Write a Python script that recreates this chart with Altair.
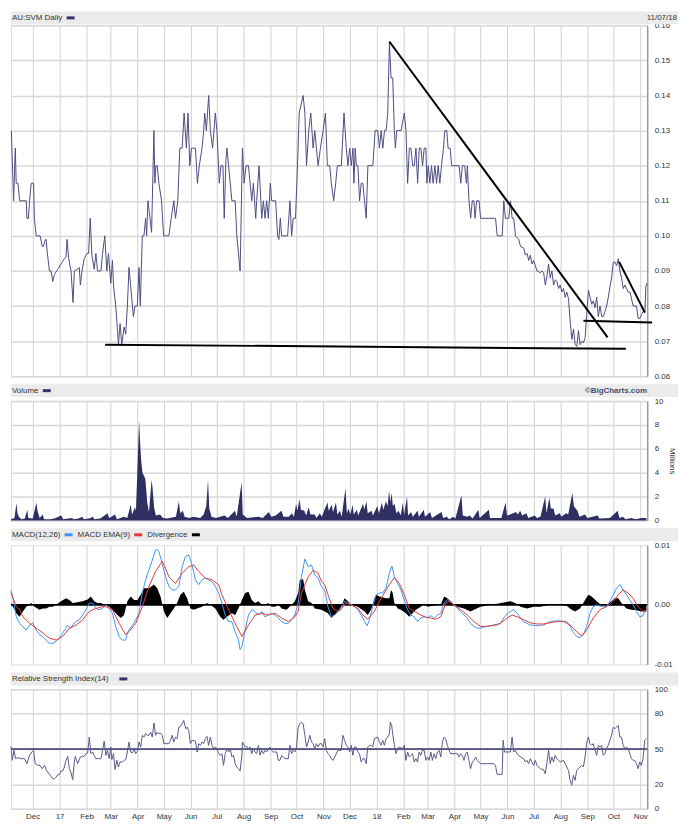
import altair as alt
import pandas as pd

# ---------------- data (day = days after 2016-11-06) ----------------
START = pd.Timestamp("2016-11-06")
END = pd.Timestamp("2018-11-09")

price = [
    (0.4, 0.130), (3, 0.110), (5, 0.125), (6, 0.115), (8, 0.115), (10, 0.110), (17.6, 0.110), (18.3, 0.105),
    (20, 0.105), (21.4, 0.110), (23.3, 0.115), (26, 0.115), (27, 0.105), (29, 0.100), (33.6, 0.100), (36, 0.097),
    (37.4, 0.097), (39.7, 0.099), (40.5, 0.099), (41.7, 0.0955), (44.3, 0.090), (46.2, 0.090), (48.1, 0.087),
    (50, 0.089), (53.9, 0.0905), (57.7, 0.092), (61.5, 0.0935), (63.4, 0.094), (64.6, 0.099), (66.5, 0.0935),
    (69.2, 0.090), (71.5, 0.081), (73, 0.090), (76.8, 0.0905), (78.7, 0.091), (79.9, 0.086), (81.8, 0.090),
    (84.4, 0.0935), (87.5, 0.095), (89.4, 0.095), (91.3, 0.105), (93.2, 0.0945), (95.9, 0.0905), (97.8, 0.095),
    (99.7, 0.090), (103.6, 0.090), (105.5, 0.095), (108.1, 0.100), (110.4, 0.090), (112.3, 0.095), (115, 0.0865),
    (116.9, 0.093), (118.1, 0.086), (120.7, 0.080), (122.7, 0.073), (123.8, 0.069), (125.7, 0.075), (127.6, 0.069),
    (130.3, 0.074), (132.2, 0.072), (134.1, 0.080), (136, 0.091), (141, 0.077), (142.9, 0.080), (145.6, 0.080),
    (147.5, 0.091), (149, 0.080), (151.3, 0.100), (153.2, 0.100), (155.1, 0.105), (156.3, 0.100), (157.8, 0.110),
    (162, 0.101), (164.7, 0.130), (165.8, 0.115), (167, 0.120), (168.5, 0.120), (170.4, 0.115), (173.5, 0.110),
    (175.8, 0.100), (181.9, 0.100), (184.6, 0.105), (187.6, 0.110), (189.5, 0.105), (192.2, 0.110), (194.5, 0.125),
    (197.2, 0.125), (199.5, 0.135), (202.1, 0.125), (204, 0.135), (206, 0.120), (207.9, 0.125), (212.5, 0.125),
    (214.8, 0.115), (217, 0.120), (220.1, 0.125), (222, 0.130), (223.2, 0.135), (225.1, 0.130), (227.8, 0.140),
    (229.7, 0.130), (232.3, 0.125), (235.4, 0.135), (237.3, 0.130), (240, 0.115), (241.9, 0.120), (244.2, 0.120),
    (245.7, 0.105), (247.6, 0.1215), (248.8, 0.125), (250.7, 0.120), (252.6, 0.115), (254.5, 0.110), (258.3, 0.110),
    (260.2, 0.100), (264, 0.090), (266.7, 0.125), (268.6, 0.115), (270.9, 0.120), (273.6, 0.120), (275.5, 0.115),
    (277.4, 0.110), (279.3, 0.115), (282, 0.105), (283.1, 0.110), (285.8, 0.120), (288.9, 0.105), (290.8, 0.110),
    (292.7, 0.105), (294.6, 0.110), (296.5, 0.105), (298.8, 0.115), (300.3, 0.110), (304.9, 0.110), (307.2, 0.100),
    (308.7, 0.099), (310.3, 0.105), (311.8, 0.100), (318.7, 0.100), (321.4, 0.110), (323.3, 0.100), (325.2, 0.105),
    (327.8, 0.105), (330.1, 0.120), (332.1, 0.135), (336.6, 0.140), (338.6, 0.135), (340.5, 0.120), (343.1, 0.130),
    (345.4, 0.135), (348.1, 0.125), (350, 0.130), (353.8, 0.120), (356.5, 0.125), (359.6, 0.130), (362.3, 0.135),
    (364.5, 0.120), (367.2, 0.120), (369.1, 0.115), (371.8, 0.110), (374.1, 0.115), (376, 0.120), (380.6, 0.120),
    (383.7, 0.135), (386.3, 0.125), (388.2, 0.120), (390.2, 0.125), (392.1, 0.120), (394, 0.125), (395.1, 0.115),
    (396.6, 0.125), (397.8, 0.120), (399.7, 0.120), (401.6, 0.110), (403.5, 0.115), (405.4, 0.115), (407.3, 0.110),
    (409.3, 0.105), (411.2, 0.120), (416.9, 0.120), (419.6, 0.130), (422.6, 0.130), (424.5, 0.125), (426.5, 0.130),
    (428.4, 0.125), (430.3, 0.130), (432.2, 0.130), (434.1, 0.135), (436, 0.155), (437.9, 0.145), (439.8, 0.145),
    (441.7, 0.130), (442.9, 0.125), (444.4, 0.130), (449.4, 0.130), (453.2, 0.135), (455.1, 0.130), (457, 0.115),
    (459, 0.125), (460.8, 0.125), (462.8, 0.120), (464.7, 0.120), (466.6, 0.125), (468.5, 0.115), (470.4, 0.125),
    (472.3, 0.125), (474.2, 0.120), (476.1, 0.125), (478, 0.125), (479.2, 0.115), (480.7, 0.120), (482.6, 0.115),
    (484.5, 0.120), (486.4, 0.115), (488.4, 0.120), (490.3, 0.115), (492.2, 0.120), (494.1, 0.115), (496, 0.120),
    (498.3, 0.125), (499.8, 0.130), (502.1, 0.130), (503.6, 0.125), (505.9, 0.125), (507.8, 0.120), (516.3, 0.120),
    (518.2, 0.115), (520.1, 0.120), (522.7, 0.120), (524.7, 0.115), (525.8, 0.120), (527.7, 0.110), (529.6, 0.105),
    (531.5, 0.110), (533.4, 0.110), (534.6, 0.105), (536.5, 0.110), (539.2, 0.110), (541.1, 0.105), (558.3, 0.105),
    (560.2, 0.100), (566, 0.100), (567.8, 0.110), (569.7, 0.105), (573.6, 0.105), (575.5, 0.110), (577.4, 0.105),
    (579.3, 0.105), (581.2, 0.100), (585, 0.099), (587, 0.097), (590.8, 0.0965), (592.7, 0.0945), (594.6, 0.095),
    (596.5, 0.093), (598.4, 0.0945), (600.3, 0.092), (602.2, 0.093), (604.1, 0.0915), (606.1, 0.090), (609.9, 0.0895),
    (611.8, 0.090), (613.7, 0.0895), (615.6, 0.086), (617.5, 0.0885), (619.4, 0.092), (621.3, 0.088), (623.2, 0.090),
    (625.2, 0.086), (627.1, 0.0875), (629, 0.087), (630.9, 0.085), (632.8, 0.086), (634.7, 0.084), (636.6, 0.085),
    (638.5, 0.0825), (640.4, 0.084), (642.4, 0.082), (644.3, 0.0755), (646.2, 0.0705), (648.1, 0.0735), (650, 0.069),
    (651.9, 0.0685), (653.8, 0.073), (655.7, 0.069), (657.6, 0.070), (659.5, 0.0695), (661.5, 0.071), (663.4, 0.078),
    (665.3, 0.0845), (667.2, 0.0825), (669.1, 0.0805), (671, 0.0815), (672.9, 0.0795), (674.8, 0.0825), (676.7, 0.077),
    (678.7, 0.080), (680.6, 0.077), (682.5, 0.077), (684.4, 0.0785), (686.3, 0.080), (688.2, 0.0825), (690.1, 0.0855),
    (692, 0.088), (693.9, 0.0925), (695.9, 0.0925), (697.8, 0.0915), (699.7, 0.0935), (701.6, 0.090), (703.5, 0.088),
    (705.4, 0.085), (707.3, 0.086), (709.2, 0.085), (711.1, 0.084), (713.1, 0.084), (715, 0.082), (716.9, 0.080),
    (718.8, 0.080), (720.7, 0.080), (722.6, 0.0765), (724.5, 0.0765), (726.4, 0.0775), (728.3, 0.0785), (730.3, 0.078),
    (731.4, 0.0855), (732.9, 0.0865),
]

# hand-drawn trendlines: (id, start day, start price, end day, end price)
trendlines = [
    ("support", 108.5, 0.0690, 708.4, 0.0678),
    ("downtrend", 435.9, 0.1554, 687.4, 0.0711),
    ("base", 659.5, 0.0758, 738.6, 0.0753),
    ("short", 700.7, 0.0926, 730.2, 0.0782),
]

# volume, millions of shares
volume = [
    (0, 0.1), (4, 0.2), (6.3, 1.45), (7.5, 0.6), (9, 0.3), (12, 0.1), (16, 0.15), (18.8, 0.9), (20, 0.2), (25, 0.15),
    (29.4, 1.5), (30.5, 0.8), (33, 0.2), (36.7, 0.5), (38, 0.1), (45, 0.1), (50, 0.15), (58, 0.4), (60, 0.1), (66, 0.15),
    (70.4, 0.2), (72, 0.1), (78, 0.15), (82, 0.3), (84, 0.1), (90, 0.15), (94.5, 0.3), (96, 0.1), (103, 0.15),
    (111.4, 0.6), (113, 0.2), (120, 0.5), (122, 0.1), (130, 0.3), (134, 0.2), (138, 1.3), (139.5, 0.5), (142.8, 1.1),
    (144, 0.8), (147.6, 8.4), (148.6, 6.8), (150, 5.0), (151.5, 4.0), (154.8, 3.5), (157, 1.5), (159, 0.7), (162, 3.4),
    (163, 2.8), (165, 1.0), (167, 0.4), (171.7, 0.5), (175, 0.2), (180, 0.15), (190, 0.3), (193.5, 1.6), (195, 0.6),
    (198, 0.8), (200, 0.3), (205, 0.2), (210, 0.3), (218, 0.2), (222, 0.5), (225, 1.2), (227, 3.4), (228.5, 1.0),
    (231, 0.3), (236, 0.2), (246, 0.4), (250, 0.2), (258, 0.8), (260, 0.3), (265.8, 3.2), (267, 0.5), (272, 0.2),
    (285, 0.3), (290, 0.2), (297, 0.7), (300, 0.3), (305, 0.4), (311.6, 0.8), (314, 0.3), (320, 0.3), (323.7, 0.6),
    (326, 0.3), (328.5, 1.4), (330, 0.8), (332.4, 1.8), (334, 0.9), (338, 0.8), (340, 0.4), (343, 1.1), (345, 0.5),
    (350, 0.5), (352, 0.2), (355.9, 0.6), (358, 0.3), (364.7, 1.5), (366, 0.8), (369.5, 1.3), (371, 0.7), (374.4, 1.5),
    (376, 0.5), (379, 0.8), (381, 0.3), (385.4, 2.7), (387, 0.6), (388.8, 1.0), (391, 0.5), (393.6, 1.3), (395, 0.5),
    (398.5, 0.9), (400, 0.4), (405.7, 1.4), (407, 0.9), (409.5, 1.6), (411, 0.6), (415.3, 0.8), (417, 0.4), (422, 1.2),
    (424, 0.6), (427.4, 1.5), (429, 0.9), (432, 1.6), (434, 1.2), (435.6, 2.5), (437, 1.5), (438.5, 2.3), (440, 1.2),
    (441.9, 1.4), (444, 0.6), (446.7, 0.8), (449, 0.4), (451.5, 1.5), (453, 0.5), (456.3, 2.0), (457.5, 0.4), (461, 0.7),
    (463, 0.3), (468.4, 0.8), (470, 0.3), (475.6, 0.9), (477, 0.3), (483, 0.7), (485, 0.2), (496, 0.7), (498, 0.2),
    (502, 0.3), (505, 0.1), (509.4, 0.3), (512, 0.15), (519, 2.1), (520.5, 0.4), (526, 0.3), (528.4, 0.4), (532, 0.15),
    (538.4, 0.9), (540, 0.2), (550.5, 0.9), (552, 0.2), (557.8, 0.2), (565, 0.2), (569.8, 1.5), (571.5, 0.4), (575, 0.5),
    (581.8, 0.7), (584, 0.5), (586.6, 0.8), (589, 0.4), (593.8, 0.6), (596, 0.2), (603.5, 0.4), (606, 0.2), (610, 0.3),
    (615.5, 2.0), (617, 0.6), (620.3, 1.9), (622, 1.0), (625, 1.0), (627, 0.4), (632.4, 0.6), (634, 0.3), (639.6, 0.6),
    (642, 0.5), (646.8, 2.3), (648.5, 1.2), (652.6, 0.8), (655, 0.3), (661.4, 0.5), (664, 0.2), (675.9, 0.4),
    (678, 0.15), (690, 0.2), (699, 0.8), (701, 0.2), (705, 0.3), (708, 0.1), (714.5, 0.2), (720, 0.1), (726.5, 0.2),
    (732, 0.2),
]

# MACD values in thousandths
macd_line = [
    (0, 2.5), (2.3, 1.1), (6.1, -2.0), (9.9, -3.1), (13.8, -3.7), (17.6, -4.2), (21.4, -3.4), (25.2, -3.0), (29, -4.2),
    (32.9, -5.0), (36.7, -5.3), (40.5, -5.9), (44.3, -6.4), (48.1, -6.5), (52, -6.1), (55.8, -5.6), (59.6, -4.7),
    (63.4, -3.9), (65.3, -3.4), (67.3, -3.7), (69.2, -3.9), (71.1, -3.4), (74.9, -2.8), (78.7, -2.5), (82.5, -1.7),
    (86.4, -0.8), (90.2, 0.3), (94, 0.3), (97.8, -0.6), (101.6, -0.8), (105.5, -0.6), (109.3, 0), (113.1, -0.6),
    (116.9, -1.4), (120.7, -3.6), (124.6, -5.3), (126.5, -5.7), (128.4, -5.9), (132.2, -5.9), (134.1, -4.7),
    (136, -4.2), (139.9, -3.4), (143.7, -2.5), (147.5, -1.4), (151.3, 2.0), (155.1, 4.2), (159, 5.9), (162.8, 7.5),
    (166.6, 9.2), (168.5, 9.3), (170.4, 8.9), (174.2, 7.0), (178.1, 4.7), (181.9, 3.1), (185.7, 2.5), (189.5, 2.5),
    (193.4, 3.1), (197.2, 6.4), (201, 8.1), (204.8, 8.4), (208.6, 6.7), (212.5, 4.2), (216.3, 3.4), (220.1, 4.2),
    (223.9, 4.5), (227.7, 4.2), (231.6, 3.9), (235.4, 3.1), (239.2, 2.0), (243, 0.3), (246.8, -1.7), (250.7, -2.8),
    (254.5, -2.8), (258.3, -4.5), (262.1, -5.9), (264, -7.5), (266, -7.0), (269.8, -4.2), (273.6, -1.7), (277.4, -0.8),
    (281.2, -1.1), (285.1, -1.7), (288.9, -1.1), (292.7, -2.0), (296.5, -1.7), (300.3, -1.4), (304.2, -1.7), (308, -2.2),
    (311.8, -2.8), (315.6, -3.1), (319.5, -3.1), (323.3, -2.5), (327.1, -1.7), (330.9, 0.3), (334.7, 4.7), (338.6, 7.7),
    (342.4, 6.4), (346.2, 6.7), (350, 5.0), (353.8, 4.5), (357.6, 3.1), (361.4, 2.5), (365.2, -0.3), (369.1, -2.0),
    (372.9, -1.7), (376.7, -1.1), (380.5, -0.8), (384.3, 0.6), (388.2, 0.3), (392, 0), (395.8, -0.3), (399.6, -0.8),
    (403.5, -1.7), (407.3, -2.8), (410.3, -3.5), (413, -2.5), (416.8, -0.3), (420.7, 1.7), (424.5, 2.0), (428.3, 2.0),
    (432.1, 2.8), (435.9, 5.3), (439, 6.5), (441.7, 4.7), (445.5, 3.6), (449.3, 2.5), (453.1, 0.8), (457, -0.8),
    (460.8, -1.7), (464.6, -2.0), (468.4, -2.8), (472.2, -2.2), (476.1, -2.0), (479.9, -2.1), (483.7, -1.8),
    (487.5, -2.3), (491.3, -1.7), (495.2, -1.4), (499, 0.3), (502.8, 0.9), (506.6, 0.6), (510.4, 0), (514.3, -0.6),
    (518.1, -1.1), (521.9, -1.7), (525.7, -2.2), (529.5, -3.1), (533.4, -3.6), (537.2, -3.9), (541, -3.9),
    (544.8, -3.7), (548.7, -3.6), (552.5, -3.5), (556.3, -3.4), (560.1, -3.4), (563.9, -3.1), (567.8, -2.2),
    (571.6, -1.5), (575.4, -1.1), (579.2, -0.8), (583.1, -1.4), (586.9, -2.2), (590.7, -2.8), (594.5, -3.1),
    (598.3, -3.4), (602.2, -3.4), (606, -3.5), (609.8, -3.4), (613.6, -3.4), (617.4, -3.1), (621.3, -2.8),
    (625.1, -2.7), (632.7, -2.7), (640.4, -2.8), (644.2, -3.6), (648, -4.7), (651.8, -5.3), (655.6, -5.5),
    (659.5, -5.0), (663.3, -3.6), (667.1, -1.4), (670.9, -0.3), (674.8, 0), (678.6, -0.2), (682.4, -0.3),
    (686.2, -0.3), (690, 0.6), (693.9, 1.7), (697.7, 2.8), (701.5, 3.4), (705.3, 2.5), (709.1, 1.7), (713, 0.8),
    (716.8, 0), (720.6, -1.1), (724.4, -2.0), (728.2, -1.8), (730.1, -1.1), (732.1, -0.9),
]

macd_ema = [
    (0, 2.0), (6.1, -0.3), (9.9, -0.8), (13.8, -2.0), (21.4, -3.1), (29, -3.9), (36.7, -4.7), (44.3, -5.6), (52, -5.9),
    (59.6, -5.3), (67.3, -3.9), (74.9, -3.4), (82.5, -2.5), (90.2, -1.1), (97.8, -0.6), (105.5, -0.3), (109.3, -0.3),
    (116.9, -0.8), (124.6, -3.1), (132.2, -5.0), (136, -4.5), (143.7, -3.1), (151.3, -0.3), (159, 3.1), (166.6, 5.6),
    (174.2, 7.3), (178.1, 6.1), (181.9, 4.7), (189.5, 3.6), (197.2, 5.3), (204.8, 6.4), (210.5, 6.7), (216.3, 5.6),
    (223.9, 4.5), (231.6, 4.2), (239.2, 3.4), (243, 1.7), (250.7, -0.8), (258.3, -3.1), (266, -5.3), (273.6, -3.4),
    (281.2, -1.7), (288.9, -1.4), (296.5, -1.7), (304.2, -1.4), (311.8, -2.2), (319.5, -2.8), (327.1, -2.0),
    (330.9, -1.1), (334.7, 2.0), (342.4, 4.7), (348.1, 5.8), (353.8, 5.3), (357.6, 4.0), (361.4, 3.4), (365.2, 1.7),
    (371, -0.6), (376.7, -1.1), (380.5, -0.6), (386.3, 0.3), (392, 0), (399.6, -0.6), (405.4, -1.7), (411.1, -2.4),
    (418.7, -1.1), (424.5, 0.6), (430.2, 2.0), (435.9, 3.4), (441.7, 4.6), (447.4, 3.6), (453.1, 1.7), (458.9, -0.6),
    (464.6, -1.1), (472.2, -1.7), (478, -2.1), (483.7, -2.2), (489.4, -2.4), (495.2, -2.0), (500.9, 0.3),
    (504.7, 0.6), (510.4, 0), (518.1, -0.8), (525.7, -1.7), (533.4, -2.8), (541, -3.6), (548.7, -3.6), (556.3, -3.4),
    (563.9, -3.1), (571.6, -2.2), (577.3, -1.7), (583.1, -2.0), (590.7, -2.5), (598.3, -3.0), (606, -3.2),
    (613.6, -3.2), (621.3, -3.0), (628.9, -2.8), (636.5, -2.8), (644.2, -3.4), (651.8, -4.5), (657.6, -5.2),
    (663.3, -4.2), (670.9, -2.2), (678.6, -0.8), (686.2, -0.3), (693.9, 0.6), (699.6, 1.7), (705.3, 2.5), (711, 2.0),
    (716.8, 1.1), (722.5, -0.3), (728.2, -1.1), (732.1, -0.9),
]

macd_divergence = [
    (0, 0.3), (2.3, -0.3), (6.1, -1.4), (9.9, -2.0), (13.8, -1.1), (17.6, -0.3), (23.3, 0.3), (27.1, -0.3),
    (32.9, -0.8), (36.7, -0.6), (40.5, -0.6), (44.3, -0.3), (48.1, -0.3), (52, 0), (57.7, 0.6), (63.4, 1.1),
    (67.3, 0.8), (71.1, 0.3), (74.9, 0.4), (82.5, 0.6), (88.3, 0.9), (92.1, 1.4), (95.9, 0.6), (99.7, 0.3),
    (103.6, 0.3), (107.4, 0), (113.1, -0.3), (116.9, -0.8), (122.7, -1.7), (126.5, -2.2), (130.3, -1.7), (134.1, 0.6),
    (137.9, 1.4), (141.8, 0.8), (145.6, 0.8), (149.4, 1.7), (153.2, 2.8), (159, 2.8), (164.7, 3.4), (168.5, 2.8),
    (172.3, 1.4), (176.2, -1.1), (180, -2.2), (183.8, -1.4), (187.6, -0.6), (191.4, 0.3), (195.2, 1.7), (199.1, 2.2),
    (202.9, 1.1), (206.7, -0.6), (210.5, -0.8), (214.4, -0.6), (220.1, -0.3), (225.8, 0.3), (229.7, 0),
    (235.4, -0.6), (241.1, -2.0), (244.9, -2.5), (248.8, -2.0), (254.5, -1.4), (258.3, -1.7), (262.1, -0.6),
    (266, 0.8), (269.8, 2.0), (273.6, 2.2), (277.4, 0.8), (281.2, 0.3), (285.1, 0.6), (288.9, 0), (292.7, 0),
    (296.5, 0.3), (300.3, -0.3), (304.2, -0.3), (308, 0), (311.8, -0.6), (317.5, -0.8), (323.3, 0), (327.1, 0.6),
    (330.9, 2.0), (332.8, 4.2), (336.6, 4.3), (338.6, 2.5), (342.4, 0.6), (346.2, 0.3), (350, -0.6), (357.6, -0.8),
    (361.4, -1.1), (365.2, -1.4), (369.1, -2.2), (372.9, -1.7), (376.7, -1.1), (380.5, -0.3), (384.3, 1.1),
    (388.2, 0.6), (392, 0), (399.6, -0.3), (407.3, -1.1), (411.1, -1.7), (414.9, -0.8), (418.7, 1.1), (420.7, 1.7),
    (424.5, 1.4), (432.1, 1.1), (435.9, 1.1), (437.8, 2.5), (439.8, 2.0), (441.7, 0.3), (445.5, -0.6), (449.3, -0.8),
    (455, -1.4), (458.9, -2.0), (462.7, -1.4), (466.5, -0.8), (472.2, -0.3), (476.1, 0.2), (479.9, -0.3),
    (487.5, -0.1), (495.2, 0), (499, 1.4), (502.8, 1.1), (508.5, 0.3), (514.3, -0.3), (521.9, -0.6), (529.5, -1.1),
    (533.4, -0.8), (541, -0.3), (548.7, -0.1), (552.5, 0.1), (560.1, 0.2), (567.8, 0.4), (575.4, 0.6), (581.1, 0.3),
    (586.9, -0.3), (594.5, -0.6), (602.2, -0.3), (609.8, -0.3), (617.4, -0.1), (621.3, 0.1), (628.9, 0.1),
    (640.4, -0.2), (646.1, -0.8), (649.9, -1.1), (655.6, -0.6), (661.4, 0.8), (665.2, 1.7), (669, 1.4),
    (674.8, 0.6), (680.5, -0.1), (686.2, 0), (691.9, 0.6), (695.8, 1.1), (699.6, 1.1), (703.4, 0.3), (709.1, -0.6),
    (714.9, -0.8), (720.6, -0.9), (726.3, -1.1), (732.1, -1.1),
]

rsi = [
    (0, 52.2), (1.5, 40.5), (3.4, 48.9), (5.3, 41.9), (8, 42.7), (11.8, 41.9), (15.7, 41.9), (18.3, 37.7), (21.4, 44.7),
    (24.5, 48), (26, 48.9), (27.9, 37.7), (31, 36.3), (33.6, 36.3), (35.9, 33.5), (38.6, 36.3), (41.3, 31.6),
    (44.3, 28.8), (48.1, 25.1), (50.1, 25.1), (52, 26.5), (53.9, 28.5), (55.8, 28.5), (57.7, 31.6), (59.6, 31.6),
    (61.5, 34.9), (63.4, 40.5), (65.3, 43.9), (67.3, 33.5), (69.2, 30), (71.1, 24.3), (73, 39.1), (74.1, 43.9),
    (76.8, 37.7), (79.9, 43.3), (82.5, 43.9), (84.4, 43.9), (86.4, 46.1), (88.3, 46.6), (90.2, 60), (92.1, 46.1),
    (94, 47.5), (95.9, 44.7), (97.8, 41.9), (103.6, 41.9), (105.5, 48.9), (107.4, 56.7), (109.3, 44.7), (111.2, 48.9),
    (113.1, 41.9), (115, 51.7), (116.2, 41.1), (118.1, 46.1), (120, 32.7), (121.9, 40.5), (123.8, 34.9), (125.7, 39.1),
    (128.4, 39.1), (130.3, 40.5), (132.2, 41.1), (134.1, 47.5), (136, 55.9), (137.9, 47.5), (139.9, 46.6),
    (141.8, 50.3), (143.7, 46.1), (145.6, 48), (147.5, 55.9), (149.4, 51.7), (151.3, 61.5), (153.2, 60), (155.1, 62.8),
    (157, 61.5), (159, 61.5), (160.9, 64.2), (162.8, 60), (164.7, 71.8), (166.6, 61.5), (168.5, 64.2), (170.4, 62.8),
    (172.3, 63.3), (174.2, 61.5), (176.2, 54.5), (181.9, 54.5), (183.8, 57.3), (185.7, 61.5), (187.6, 55.9),
    (189.5, 60), (191.4, 58.7), (193.4, 68.4), (195.3, 69), (197.2, 71.2), (199.1, 74), (200.2, 69.8), (201.8, 67),
    (202.9, 68.4), (204.8, 65.6), (206.7, 54.5), (208.6, 57.3), (212.5, 56.7), (214.4, 47.5), (216.3, 54.5),
    (218.2, 53.1), (220.1, 55.9), (222, 54.5), (223.9, 58.7), (225.8, 60.6), (227.7, 53.1), (229.7, 60), (231.6, 53.1),
    (233.5, 50.3), (235.4, 51.7), (237.3, 50.3), (239.2, 46.1), (241.1, 44.7), (243, 46.1), (244.9, 36.3),
    (246.8, 46.1), (248.8, 50.3), (250.7, 47.5), (252.6, 50.3), (254.5, 43.3), (256.4, 44.7), (258.3, 37.7),
    (260.2, 34.9), (262.1, 33.5), (264, 31.6), (266, 44.7), (266.7, 55.9), (268.6, 53.1), (269.8, 51.7), (271.7, 52.2),
    (273.6, 50.3), (275.5, 51.7), (277.4, 46.1), (279.3, 50.3), (281.2, 47.5), (283.1, 46.1), (285.1, 53.1), (287, 44.7),
    (288.9, 48.9), (290.8, 46.1), (292.7, 48.9), (294.6, 47.5), (296.5, 50.3), (298.4, 51.7), (300.3, 48.9),
    (302.3, 47.5), (306.1, 47.5), (308, 40.5), (309.9, 40.5), (311.8, 44.7), (315.6, 41.9), (319.5, 41.9),
    (321.4, 53.1), (323.3, 46.1), (325.2, 48.9), (327.1, 47.5), (329, 51.7), (330.9, 68.4), (332.8, 71.2),
    (334.7, 72.6), (336.6, 71.2), (338.6, 61.5), (340.5, 51.7), (342.4, 55.9), (344.3, 61.5), (346.2, 55.9),
    (348.1, 54.5), (350, 50.3), (351.9, 54.5), (353.8, 51.7), (355.8, 54.5), (357.6, 54.5), (359.5, 51.7),
    (361.4, 58.7), (363.3, 48.9), (365.2, 46.1), (367.2, 44.7), (369.1, 41.9), (371, 40.5), (372.9, 43.3),
    (376.7, 48.9), (380.5, 48.9), (382.4, 61.5), (384.3, 57.3), (386.3, 53.1), (388.2, 51.7), (390.1, 47.5),
    (392, 53.1), (393.9, 44.7), (395.8, 51.7), (397.7, 51.7), (399.6, 47.5), (401.5, 46.1), (403.5, 39.1),
    (405.4, 41.9), (407.3, 41.9), (409.2, 37.7), (411.1, 51.7), (413, 53.1), (414.9, 53.1), (416.8, 51.7),
    (418.7, 58.7), (422.6, 60), (424.5, 55.9), (426.4, 53.1), (428.3, 57.3), (430.2, 53.1), (432.1, 58.7), (434, 60),
    (435.9, 62.3), (437.1, 72.6), (438.6, 69.8), (439.8, 62.8), (441.7, 53.1), (443.6, 46.1), (445.5, 50.3),
    (447.4, 51.7), (451.2, 50.3), (453.1, 53.1), (455, 40.5), (457, 47.5), (458.9, 43.3), (460.8, 44.7), (462.7, 46.1),
    (464.6, 39.1), (466.5, 41.9), (468.4, 39.1), (470.3, 47.5), (472.2, 44.7), (474.2, 48.9), (476.1, 48.9),
    (478, 40.5), (479.9, 43.3), (481.8, 40.5), (483.7, 47.5), (485.6, 40.5), (487.5, 46.1), (489.4, 41.9),
    (491.3, 47.5), (493.3, 48.9), (495.2, 43.3), (497.1, 55.9), (499, 60), (500.9, 58.7), (502.8, 53.1), (504.7, 48.9),
    (506.6, 46.1), (514.3, 46.1), (516.2, 43.3), (518.1, 46.1), (520, 44.7), (521.9, 40.5), (523.8, 46.1),
    (525.7, 47.5), (527.6, 40.5), (529.5, 33.5), (531.5, 39.1), (533.4, 40.5), (535.3, 43.3), (537.2, 40.5),
    (539.1, 39.1), (541, 37.7), (556.3, 37.7), (558.2, 36.3), (560.1, 28.8), (565.9, 28.8), (567, 57.3),
    (568.6, 47.5), (575.4, 47.5), (577.3, 60), (579.2, 47.5), (581.1, 48.9), (583.1, 46.1), (586.9, 43.3),
    (590.7, 41.9), (592.6, 39.1), (594.5, 40.5), (596.4, 37.7), (598.3, 41.9), (602.2, 36.3), (604.1, 40.5),
    (606, 36.3), (609.8, 33.5), (613.6, 32.7), (615.5, 29.3), (617.4, 37.7), (619.4, 48.9), (621.3, 37.7),
    (623.2, 43.3), (625.1, 39.1), (627, 44.7), (628.9, 41.9), (630.8, 40.5), (632.7, 39.1), (636.5, 40.5),
    (640.4, 34.9), (642.3, 32.1), (644.2, 23.7), (646.1, 19.6), (648, 27.9), (649.9, 23.7), (651.8, 32.1),
    (653.7, 33.5), (655.6, 34.9), (657.6, 36.3), (659.5, 34.9), (661.4, 43.3), (663.3, 55), (665.2, 60),
    (667.1, 54.5), (669, 53.1), (670.9, 54.5), (672.9, 48.9), (674.8, 44.7), (676.7, 53.1), (678.6, 51.7),
    (680.5, 53.1), (682.4, 44.7), (684.3, 46.1), (686.2, 50.3), (688.1, 53.1), (690, 57.3), (691.9, 61.5),
    (693.9, 68.4), (695.8, 67), (697.7, 68.4), (699.6, 69.8), (701.5, 60), (703.4, 60), (705.3, 53.1), (707.2, 50.3),
    (709.1, 51.7), (711, 50.3), (713, 46.1), (714.9, 41.9), (716.8, 40.5), (718.7, 40.5), (720.6, 37.7),
    (722.5, 33.5), (724.4, 39.1), (726.3, 36.3), (728.2, 41.9), (730.1, 57.3), (732, 58.7),
]

x_labels = ["Dec", "17", "Feb", "Mar", "Apr", "May", "Jun", "Jul", "Aug", "Sep", "Oct", "Nov",
            "Dec", "18", "Feb", "Mar", "Apr", "May", "Jun", "Jul", "Aug", "Sep", "Oct", "Nov"]
price_ticks = [0.06, 0.07, 0.08, 0.09, 0.10, 0.11, 0.12, 0.13, 0.14, 0.15, 0.16]
volume_ticks = [0, 2, 4, 6, 8, 10]
macd_ticks = [-0.01, 0.0, 0.01]
rsi_ticks = [0, 20, 50, 80, 100]


# ---------------- helpers ----------------
def frame(pairs, scale=1.0):
    df = pd.DataFrame(pairs, columns=["day", "v"])
    df["v"] = df["v"] * scale
    df["date"] = START + pd.to_timedelta(df["day"], unit="D")
    return df[["date", "v"]]


def dt(ts):
    return alt.DateTime(year=ts.year, month=ts.month, date=ts.day)


FONT = "Liberation Sans"
TXT = "#333333"
GRID = "#d2d2d2"
HDR = "#ebebeb"
NAVY = "#33336a"
W = 640

month_starts = pd.date_range("2016-12-01", "2018-11-01", freq="MS")
TICKS = [dt(d) for d in month_starts]
LABEL_EXPR = ("[" + ",".join("'%s'" % s for s in x_labels) + "]"
              "[(year(datum.value)-2016)*12 + month(datum.value) - 11]")


def xenc(labels=False):
    return alt.X(
        "date:T",
        scale=alt.Scale(domain=[dt(START), dt(END)]),
        axis=alt.Axis(values=TICKS, grid=True, gridColor=GRID, gridWidth=1, ticks=False, domain=False,
                      labels=labels, labelExpr=LABEL_EXPR, labelFlush=False, labelOverlap=False,
                      labelPadding=4, labelFont=FONT, labelFontSize=8, labelColor=TXT, title=None),
    )


def yenc(domain, values, grid=True, label_expr=None, title=None):
    kw = dict(orient="right", values=values, grid=grid, gridColor="#d8d8d8", gridWidth=1.5, ticks=False,
              domain=True, domainColor="#9a9a9a", domainWidth=1.5, labelPadding=7, labelFont=FONT,
              labelFontSize=8, labelColor=TXT, title=title)
    if label_expr:
        kw["labelExpr"] = label_expr
    if title:
        kw.update(titleAngle=90, titleFont=FONT, titleFontSize=8, titleFontWeight="normal",
                  titleColor=TXT, titlePadding=5)
    return alt.Y("v:Q", scale=alt.Scale(domain=domain, nice=False, zero=False), axis=alt.Axis(**kw))


ONE = pd.DataFrame({"k": [0]})


def bar(y0, y1):
    return alt.Chart(ONE).mark_rect(color=HDR).encode(
        x=alt.value(0), x2=alt.value(671), y=alt.value(y0), y2=alt.value(y1))


def label(txt, x, y, color=TXT, weight="normal", align="left"):
    return alt.Chart(pd.DataFrame({"t": [txt]})).mark_text(
        align=align, baseline="middle", font=FONT, fontSize=8, color=color, fontWeight=weight
    ).encode(x=alt.value(x), y=alt.value(y), text="t:N")


def swatch(x, y, color):
    return alt.Chart(ONE).mark_rect(color=color).encode(
        x=alt.value(x), x2=alt.value(x + 8), y=alt.value(y - 1.5), y2=alt.value(y + 1.5))


# ---------------- price panel ----------------
price_df = frame(price)
rows = []
for name, d0, p0, d1, p1 in trendlines:
    rows.append({"seg": name, "date": START + pd.Timedelta(days=d0), "v": p0})
    rows.append({"seg": name, "date": START + pd.Timedelta(days=d1), "v": p1})
trend_df = pd.DataFrame(rows)

py = yenc([0.06, 0.16], price_ticks, label_expr="format(datum.value, '.2f')")
price_line = alt.Chart(price_df).mark_line(color="#4d4d82", strokeWidth=1).encode(x=xenc(), y=py)
trend = alt.Chart(trend_df).mark_line(color="black", strokeWidth=2).encode(x=xenc(), y=py, detail="seg:N")

price_panel = alt.layer(
    bar(-14, -1),
    label("AU:SVM Daily", 1, -7.5), swatch(56, -7.5, NAVY),
    label("11/07/18", 670, -7.5, align="right"),
    price_line, trend,
).properties(width=W, height=353)

# ---------------- volume panel ----------------
vol_df = frame(volume)
vol_area = alt.Chart(vol_df).mark_area(color="#2f2f62", interpolate="linear").encode(
    x=xenc(), y=yenc([0, 10], volume_ticks, title="Millions"))
vol_panel = alt.layer(
    bar(-17, -4),
    label("Volume", 1, -10.5), swatch(32, -10.5, NAVY),
    label("©BigCharts.com", 640, -10.5, color="#4a4a70", weight="bold", align="right"),
    vol_area,
).properties(width=W, height=120)

# ---------------- MACD panel ----------------
neg_fix = "replace(format(datum.value, '.2f'), '\u2212', '-')"
my = yenc([-0.01, 0.01], macd_ticks, grid=False, label_expr=neg_fix)
div_area = alt.Chart(frame(macd_divergence, 0.001)).mark_area(color="black", interpolate="linear").encode(
    x=xenc(), y=my, y2=alt.datum(0))
zero_rule = alt.Chart(pd.DataFrame({"v": [0.0]})).mark_rule(color="black", strokeWidth=2).encode(y=my)
blue = alt.Chart(frame(macd_line, 0.001)).mark_line(color="#3d96f5", strokeWidth=1).encode(x=xenc(), y=my)
red = alt.Chart(frame(macd_ema, 0.001)).mark_line(color="#e23a3a", strokeWidth=1).encode(x=xenc(), y=my)
macd_panel = alt.layer(
    bar(-17, -4),
    label("MACD(12,26)", 1, -10.5), swatch(54, -10.5, "#3d96f5"),
    label("MACD EMA(9)", 67, -10.5), swatch(124, -10.5, "#e23a3a"),
    label("Divergence", 137, -10.5), swatch(182, -10.5, "black"),
    div_area, zero_rule, blue, red,
).properties(width=W, height=120)

# ---------------- RSI panel ----------------
ry = yenc([0, 100], rsi_ticks)
rsi_line = alt.Chart(frame(rsi)).mark_line(color="#5a5a8c", strokeWidth=1).encode(x=xenc(labels=True), y=ry)
mid = alt.Chart(pd.DataFrame({"v": [50]})).mark_rule(color=NAVY, strokeWidth=1.5).encode(y=ry)
rsi_panel = alt.layer(
    bar(-17, -4),
    label("Relative Strength Index(14)", 1, -10.5), swatch(109, -10.5, NAVY),
    mid, rsi_line,
).properties(width=W, height=120)

chart = alt.vconcat(price_panel, vol_panel, macd_panel, rsi_panel, spacing=25, bounds="flush").properties(
    padding=0
).configure_view(stroke="#b4b4b4", strokeWidth=1).configure(background="white")

chart.save("out.html", embed_options={"renderer": "svg", "actions": False})
